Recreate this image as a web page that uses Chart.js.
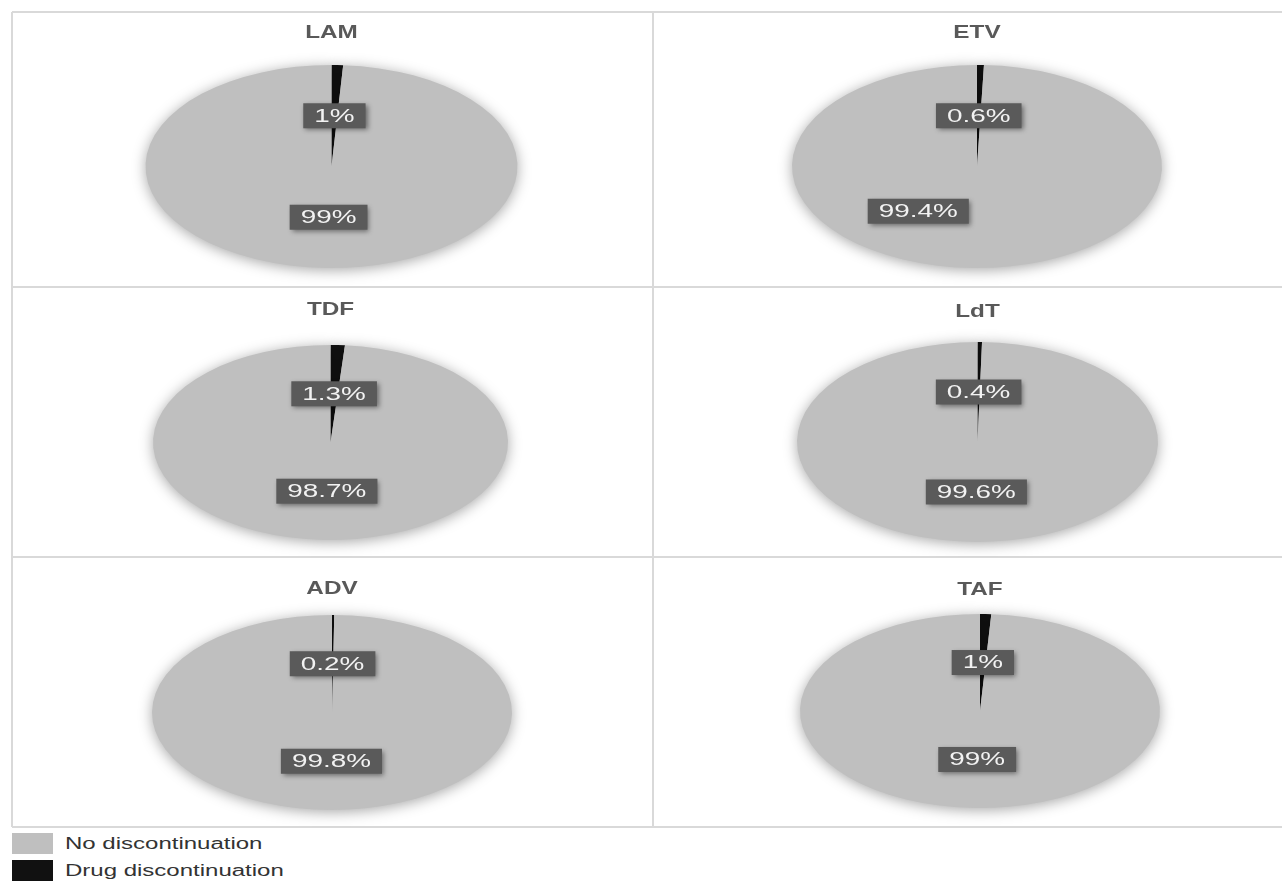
<!DOCTYPE html>
<html>
<head>
<meta charset="utf-8">
<script src="https://cdn.jsdelivr.net/npm/chart.js@4.4.0/dist/chart.umd.min.js"></script>
<style>
  html, body { margin: 0; padding: 0; background: #fff; }
  body { width: 1282px; height: 881px; position: relative; overflow: hidden;
         font-family: "Liberation Sans", Arial, sans-serif; }
  .cell { position: absolute; }
  .rule { position: absolute; background: #d9d9d9; }
  .legend-row { position: absolute; left: 12px; height: 21px; width: 400px; }
  .swatch { position: absolute; left: 0; top: 0; width: 41px; height: 21px; }
  .legend-text { position: absolute; left: 53px; top: 0; line-height: 21px; font-size: 16px;
                 color: #333; transform: scaleX(1.5); transform-origin: left center; white-space: nowrap; }
</style>
</head>
<body>
<div id="board"></div>
<div id="legend"></div>
<script>
// --- data ---
const drugs = ['LAM', 'ETV', 'TDF', 'LdT', 'ADV', 'TAF'];
const categories = ['No discontinuation', 'Drug discontinuation'];
const noDiscontinuation = [99, 99.4, 98.7, 99.6, 99.8, 99];
const drugDiscontinuation = [1, 0.6, 1.3, 0.4, 0.2, 1];

// --- look ---
const sliceColors = { 'No discontinuation': '#bfbfbf', 'Drug discontinuation': '#111111' };
const FONT = '"Liberation Sans", Arial, sans-serif';
const TEXT_STRETCH = 1.55;

// cell box [x, y, w, h], pie centre / radii and title line, all in page pixels
const panels = [
  { cell: [12, 12, 641, 275],  cx: 331.5, cy: 166.5, rx: 186,   ry: 101.5, titleY: 33 },
  { cell: [653, 12, 629, 275], cx: 977,   cy: 166.5, rx: 185,   ry: 101.5, titleY: 33, nudge: [[0, 0], [-57, -6]] },
  { cell: [12, 287, 641, 270], cx: 330.5, cy: 442.5, rx: 177.5, ry: 97.5,  titleY: 310 },
  { cell: [653, 287, 629, 270], cx: 977.5, cy: 442,  rx: 180.5, ry: 100,   titleY: 312 },
  { cell: [12, 557, 641, 270], cx: 332,   cy: 712.5, rx: 180,   ry: 97.5,  titleY: 589 },
  { cell: [653, 557, 629, 270], cx: 980,  cy: 711,   rx: 180,   ry: 97,    titleY: 590 }
];

const rules = [
  [12, 11, 1270, 2], [12, 286, 1270, 2], [12, 556, 1270, 2], [12, 826, 1270, 2],
  [11, 12, 2, 815], [652, 12, 2, 815]
];

const board = document.getElementById('board');
rules.forEach(([x, y, w, h]) => {
  const d = document.createElement('div');
  d.className = 'rule';
  d.style.cssText = `left:${x}px;top:${y}px;width:${w}px;height:${h}px`;
  board.appendChild(d);
});

// grey value tag with a soft drop shadow
function drawTag(ctx, text, x, y) {
  ctx.save();
  ctx.font = `18px ${FONT}`;
  const w = ctx.measureText(text).width * TEXT_STRETCH + 22;
  const h = 25;
  ctx.shadowColor = 'rgba(0,0,0,0.45)';
  ctx.shadowBlur = 5;
  ctx.shadowOffsetX = 2;
  ctx.shadowOffsetY = 2;
  ctx.fillStyle = '#5a5a5a';
  ctx.fillRect(x - w / 2, y - h / 2, w, h);
  ctx.shadowColor = 'transparent';
  ctx.fillStyle = '#f2f2f2';
  ctx.translate(x, y);
  ctx.scale(TEXT_STRETCH, 1);
  ctx.textAlign = 'center';
  ctx.textBaseline = 'middle';
  ctx.fillText(text, 0, 1);
  ctx.restore();
}

// squash the pie into a tilted ellipse, then add tags and the title
const ellipsePie = {
  id: 'ellipsePie',
  beforeDatasetsDraw(chart, args, opts) {
    const ctx = chart.ctx;
    const arc = chart.getDatasetMeta(0).data[0];
    ctx.save();
    ctx.translate(opts.cx, opts.cy);
    ctx.scale(1, opts.ry / opts.rx);
    ctx.translate(-arc.x, -arc.y);
    ctx.shadowColor = 'rgba(0,0,0,0.35)';
    ctx.shadowBlur = 14;
    ctx.shadowOffsetY = 2;
  },
  afterDatasetsDraw(chart, args, opts) {
    const ctx = chart.ctx;
    ctx.restore();
    const k = opts.ry / opts.rx;
    const values = chart.data.datasets[0].data;
    chart.getDatasetMeta(0).data.forEach((arc, i) => {
      const p = arc.getProps(['startAngle', 'endAngle', 'outerRadius']);
      const mid = (p.startAngle + p.endAngle) / 2;
      const n = (opts.nudge && opts.nudge[i]) || [0, 0];
      const x = opts.cx + Math.cos(mid) * p.outerRadius / 2 + n[0];
      const y = opts.cy + Math.sin(mid) * p.outerRadius / 2 * k + n[1];
      drawTag(ctx, values[i] + '%', x, y);
    });
  },
  afterDraw(chart, args, opts) {
    const ctx = chart.ctx;
    ctx.save();
    ctx.font = `bold 18px ${FONT}`;
    ctx.fillStyle = '#595959';
    ctx.textAlign = 'center';
    ctx.textBaseline = 'middle';
    ctx.translate(opts.cx, opts.titleY);
    ctx.scale(1.35, 1);
    ctx.fillText(opts.title, 0, 0);
    ctx.restore();
  }
};

const sliceOrder = ['Drug discontinuation', 'No discontinuation'];

drugs.forEach((drug, i) => {
  const p = panels[i];
  const [x, y, w, h] = p.cell;
  const canvas = document.createElement('canvas');
  canvas.className = 'cell';
  canvas.width = w;
  canvas.height = h;
  canvas.style.left = x + 'px';
  canvas.style.top = y + 'px';
  board.appendChild(canvas);

  new Chart(canvas.getContext('2d'), {
    type: 'pie',
    data: {
      labels: sliceOrder,
      datasets: [{
        data: [drugDiscontinuation[i], noDiscontinuation[i]],
        backgroundColor: sliceOrder.map(c => sliceColors[c]),
        borderWidth: 0,
        radius: p.rx,
        clip: false
      }]
    },
    options: {
      responsive: false,
      animation: false,
      events: [],
      layout: { padding: 0 },
      plugins: {
        legend: { display: false },
        tooltip: { enabled: false },
        ellipsePie: {
          title: drug,
          cx: p.cx - x, cy: p.cy - y,
          rx: p.rx, ry: p.ry,
          titleY: p.titleY - y,
          nudge: p.nudge
        }
      }
    },
    plugins: [ellipsePie]
  });
});

// legend below the grid
const legend = document.getElementById('legend');
categories.forEach((c, i) => {
  const row = document.createElement('div');
  row.className = 'legend-row';
  row.style.top = (833 + i * 27) + 'px';
  row.innerHTML = `<div class="swatch" style="background:${sliceColors[c]}"></div>` +
                  `<div class="legend-text">${c}</div>`;
  legend.appendChild(row);
});
</script>
</body>
</html>
